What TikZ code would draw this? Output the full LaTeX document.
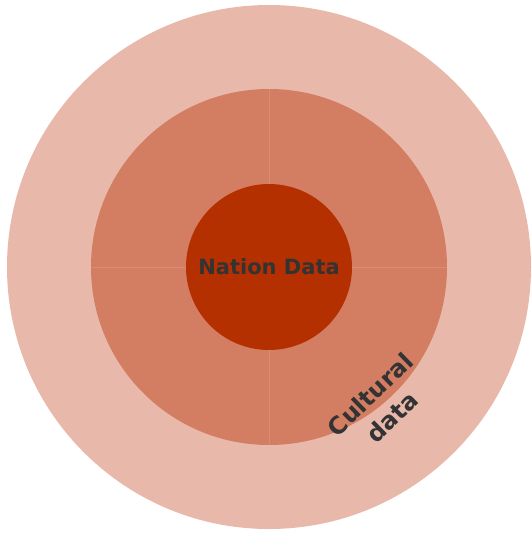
\documentclass[tikz,border=0pt]{standalone}
\usepackage{fontspec}
\setmainfont{DejaVu Sans}
\usetikzlibrary{positioning}

\definecolor{ringout}{HTML}{E8B9AA}
\definecolor{ringmid}{HTML}{D37E62}
\definecolor{ringin}{HTML}{B53000}
\definecolor{seam}{HTML}{DA8B72}
\definecolor{txt}{HTML}{333333}

\tikzset{
    disc/.style={circle, inner sep=0pt, text=txt, font=\bfseries},
}

\begin{document}
\begin{tikzpicture}[x=1pt, y=-1pt]
                    \useasboundingbox (0,0) rectangle (532,533);

                    \node[disc, fill=ringout, minimum size=524pt] (1) at (269,267) {};
                    \node[disc, fill=ringmid, minimum size=356pt] (2) at (1.center) {};

                    \draw[seam, line width=0.8pt] (2.north) -- (2.south);
                    \draw[seam, line width=0.8pt] (2.west) -- (2.east);

                    \node[disc, fill=ringin, minimum size=166pt, font=\bfseries\fontsize{21}{24}\selectfont] (3) at (2.center) {Nation Data};

                    \node[text=txt, align=center, rotate=44, inner sep=0pt, font=\bfseries\fontsize{24}{31}\selectfont] (4) at (2.-51) {Cultural\\data};
                \end{tikzpicture}
\end{document}
